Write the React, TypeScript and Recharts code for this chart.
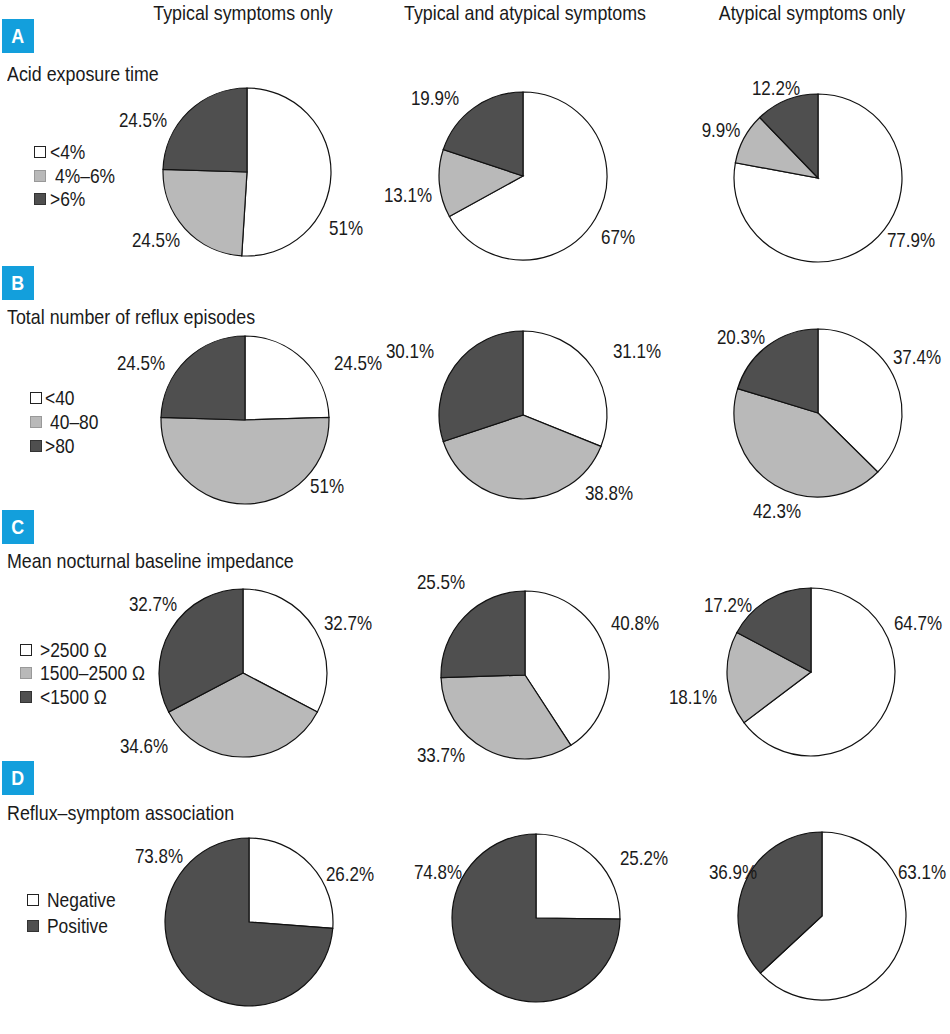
import React from "react";
import { PieChart, Pie, Cell } from "recharts";

const columnTitles = [
  "Typical symptoms only",
  "Typical and atypical symptoms",
  "Atypical symptoms only",
];
const rowLetters = ["A", "B", "C", "D"];
const rowTitles = [
  "Acid exposure time",
  "Total number of reflux episodes",
  "Mean nocturnal baseline impedance",
  "Reflux–symptom association",
];

const acidCategories = ["<4%", "4%–6%", ">6%"];
const acidTypical = [51, 24.5, 24.5];
const acidBoth = [67, 13.1, 19.9];
const acidAtypical = [77.9, 9.9, 12.2];

const episodeCategories = ["<40", "40–80", ">80"];
const episodeTypical = [24.5, 51, 24.5];
const episodeBoth = [31.1, 38.8, 30.1];
const episodeAtypical = [37.4, 42.3, 20.3];

const impedanceCategories = [">2500 Ω", "1500–2500 Ω", "<1500 Ω"];
const impedanceTypical = [32.7, 34.6, 32.7];
const impedanceBoth = [40.8, 33.7, 25.5];
const impedanceAtypical = [64.7, 18.1, 17.2];

const associationCategories = ["Negative", "Positive"];
const associationTypical = [26.2, 73.8];
const associationBoth = [25.2, 74.8];
const associationAtypical = [63.1, 36.9];

const WHITE = "#ffffff";
const GRAY = "#b9b9b9";
const DARK = "#4f4f4f";
const BLUE = "#139fdc";
const FONT = "'Liberation Sans', Arial, sans-serif";
const SQUEEZE = 0.85; // condensed look

const rows = [
  { cats: acidCategories, colors: [WHITE, GRAY, DARK], values: [acidTypical, acidBoth, acidAtypical] },
  { cats: episodeCategories, colors: [WHITE, GRAY, DARK], values: [episodeTypical, episodeBoth, episodeAtypical] },
  { cats: impedanceCategories, colors: [WHITE, GRAY, DARK], values: [impedanceTypical, impedanceBoth, impedanceAtypical] },
  { cats: associationCategories, colors: [WHITE, DARK], values: [associationTypical, associationBoth, associationAtypical] },
];

// layout: pie centres, label offsets (text centre relative to pie centre)
const centers = [
  [[247, 172], [523, 176], [818, 178]],
  [[245, 420], [523, 415], [818, 413]],
  [[243, 673], [525, 675], [811, 672]],
  [[249, 922], [536, 918], [822, 916]],
];
const labelOffsets = [
  [[[99, 56], [-91, 68], [-104, -52]], [[95, 61], [-115, 19], [-88, -78]], [[93, 62], [-97, -48], [-42, -90]]],
  [[[113, -57], [82, 66], [-104, -57]], [[114, -64], [86, 78], [-113, -64]], [[99, -56], [-41, 98], [-77, -76]]],
  [[[105, -50], [-99, 73], [-90, -69]], [[110, -52], [-84, 80], [-84, -93]], [[107, -49], [-118, 25], [-83, -67]]],
  [[[101, -48], [-90, -66]], [[108, -60], [-98, -46]], [[100, -44], [-89, -44]]],
];
const badgeTops = [19, 266, 510, 761];
const titleY = [73, 316, 560, 812];
const legendLayout = [
  { x: 34, ys: [152, 176, 199], tx: [16, 21, 16] },
  { x: 30, ys: [398, 422, 446], tx: [15, 20, 15] },
  { x: 20, ys: [650, 673, 697], tx: [20, 20, 20] },
  { x: 27, ys: [900, 926], tx: [20, 20] },
];
const headerX = [243, 525, 812];

const R = 84;

const makeLabel = (r: number, c: number) => (props: any) => {
  const [cx, cy] = centers[r][c];
  const [dx, dy] = labelOffsets[r][c][props.index];
  return (
    <g key={`l-${r}-${c}-${props.index}`} transform={`translate(${cx + dx},${cy + dy}) scale(${SQUEEZE},1)`}>
      <text
        x={0}
        y={0}
        textAnchor="middle"
        dominantBaseline="central"
        fontSize={20}
        fontFamily={FONT}
        fill="#1a1a1a"
      >
        {`${props.value}%`}
      </text>
    </g>
  );
};

const textStyle: React.CSSProperties = {
  position: "absolute",
  fontFamily: FONT,
  color: "#1a1a1a",
  lineHeight: 1,
  whiteSpace: "nowrap",
  transformOrigin: "left center",
  transform: `scaleX(${SQUEEZE})`,
};

export default function App() {
  return (
    <div style={{ position: "absolute", left: 0, top: 0, width: 950, height: 1034, background: "#fff" }}>
      <PieChart width={950} height={1034} margin={{ top: 0, right: 0, bottom: 0, left: 0 }}>
        {rows.map((row, r) =>
          row.values.map((vals, c) => (
            <Pie
              key={`p-${r}-${c}`}
              data={vals.map((v, i) => ({ name: row.cats[i], value: v }))}
              dataKey="value"
              cx={centers[r][c][0]}
              cy={centers[r][c][1]}
              outerRadius={R}
              startAngle={90}
              endAngle={-270}
              stroke="#111"
              strokeWidth={1.2}
              label={makeLabel(r, c)}
              labelLine={false}
              isAnimationActive={false}
            >
              {vals.map((_, i) => (
                <Cell key={i} fill={row.colors[i]} />
              ))}
            </Pie>
          ))
        )}
      </PieChart>

      {columnTitles.map((t, i) => (
        <div
          key={t}
          style={{
            ...textStyle,
            fontSize: 21,
            left: headerX[i],
            top: 12 - 10.5,
            transformOrigin: "center",
            transform: `translateX(-50%) scaleX(${SQUEEZE})`,
          }}
        >
          {t}
        </div>
      ))}

      {rowLetters.map((l, r) => (
        <React.Fragment key={l}>
          <div
            style={{
              position: "absolute",
              left: 2,
              top: badgeTops[r],
              width: 32,
              height: 34,
              background: BLUE,
              color: "#fff",
              fontFamily: FONT,
              fontWeight: 700,
              fontSize: 21,
              display: "flex",
              alignItems: "center",
              justifyContent: "center",
            }}
          >
            <span style={{ display: "inline-block", transform: `scaleX(${SQUEEZE})` }}>{l}</span>
          </div>
          <div style={{ ...textStyle, fontSize: 21, left: 7, top: titleY[r] - 10.5 }}>{rowTitles[r]}</div>
          {rows[r].cats.map((cat, i) => (
            <React.Fragment key={cat}>
              <div
                style={{
                  position: "absolute",
                  left: legendLayout[r].x,
                  top: legendLayout[r].ys[i] - 6,
                  width: 12,
                  height: 12,
                  boxSizing: "border-box",
                  background: rows[r].colors[i],
                  border: `1px solid ${rows[r].colors[i] === WHITE ? "#222" : rows[r].colors[i] === GRAY ? "#999" : "#333"}`,
                }}
              />
              <div
                style={{
                  ...textStyle,
                  fontSize: 20.5,
                  left: legendLayout[r].x + legendLayout[r].tx[i],
                  top: legendLayout[r].ys[i] - 10,
                }}
              >
                {cat}
              </div>
            </React.Fragment>
          ))}
        </React.Fragment>
      ))}
    </div>
  );
}
